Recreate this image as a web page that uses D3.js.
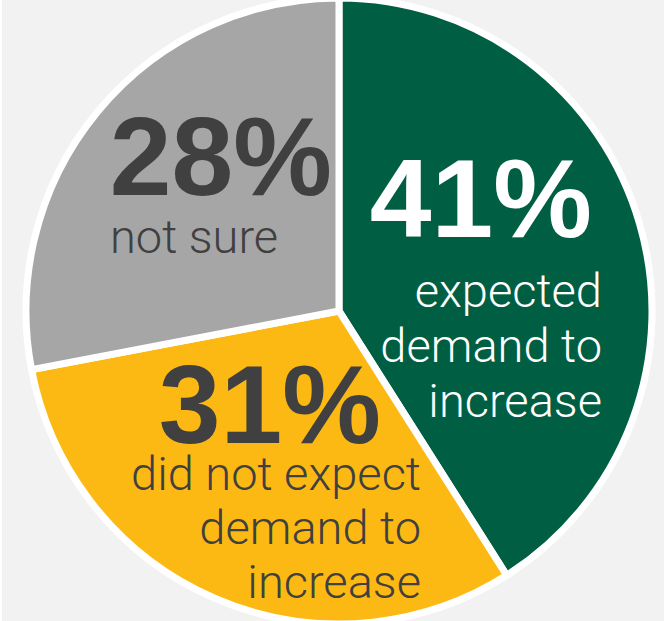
<!DOCTYPE html>
<html>
<head>
<meta charset="utf-8">
<script src="https://cdn.jsdelivr.net/npm/d3@7"></script>
<style>
  html, body { margin: 0; padding: 0; background: #ffffff; }
  svg { display: block; }
</style>
</head>
<body>
<svg id="chart" width="664" height="621"></svg>
<script>
// Data
const categories = ["expected demand to increase", "did not expect demand to increase", "not sure"];
const values = [41, 31, 28];
const percentLabels = ["41%", "31%", "28%"];
const descLines = [
  ["expected", "demand to", "increase"],
  ["did not expect", "demand to", "increase"],
  ["not sure"]
];
const colors = ["#005e43", "#fdb913", "#a6a6a6"];
const pctColors = ["#ffffff", "#404040", "#404040"];
const descColors = ["#ffffff", "#404040", "#404040"];

const W = 664, H = 621;
const svg = d3.select("#chart");

svg.append("rect").attr("x", 2).attr("y", 0).attr("width", W - 2).attr("height", H)
  .attr("fill", "#f2f2f2");

const cx = 339, cy = 311, R = 313;
const g = svg.append("g").attr("transform", `translate(${cx},${cy})`);

const pie = d3.pie().sort(null).value(d => d)(values);
const arc = d3.arc().innerRadius(0).outerRadius(R);

g.selectAll("path.slice").data(pie).join("path")
  .attr("class", "slice")
  .attr("d", arc)
  .attr("fill", (d, i) => colors[i])
  .attr("stroke", "#ffffff")
  .attr("stroke-width", 7)
  .attr("stroke-linejoin", "miter");

// Label layout (absolute positions in svg coords)
const pctPos = [
  {x: 592, y: 237, anchor: "end"},
  {x: 381, y: 443, anchor: "end"},
  {x: 332, y: 195, anchor: "end"}
];
const descPos = [
  {x: 602, y: 307, anchor: "end", dy: 55},
  {x: 421, y: 490, anchor: "end", dy: 54},
  {x: 110, y: 253, anchor: "start", dy: 54}
];

const labels = svg.append("g");
values.forEach((v, i) => {
  labels.append("text")
    .attr("x", pctPos[i].x).attr("y", pctPos[i].y)
    .attr("text-anchor", pctPos[i].anchor)
    .attr("font-family", "'Liberation Sans', Arial, sans-serif")
    .attr("font-weight", "bold")
    .attr("font-size", 111)
    .attr("fill", pctColors[i])
    .text(percentLabels[i]);
  const t = labels.append("text")
    .attr("text-anchor", descPos[i].anchor)
    .attr("font-family", "Roboto, 'Liberation Sans', sans-serif")
    .attr("font-weight", 300)
    .attr("font-size", 47)
    .attr("fill", descColors[i]);
  descLines[i].forEach((line, j) => {
    t.append("tspan").attr("x", descPos[i].x).attr("y", descPos[i].y + j * descPos[i].dy).text(line);
  });
});
</script>
</body>
</html>
